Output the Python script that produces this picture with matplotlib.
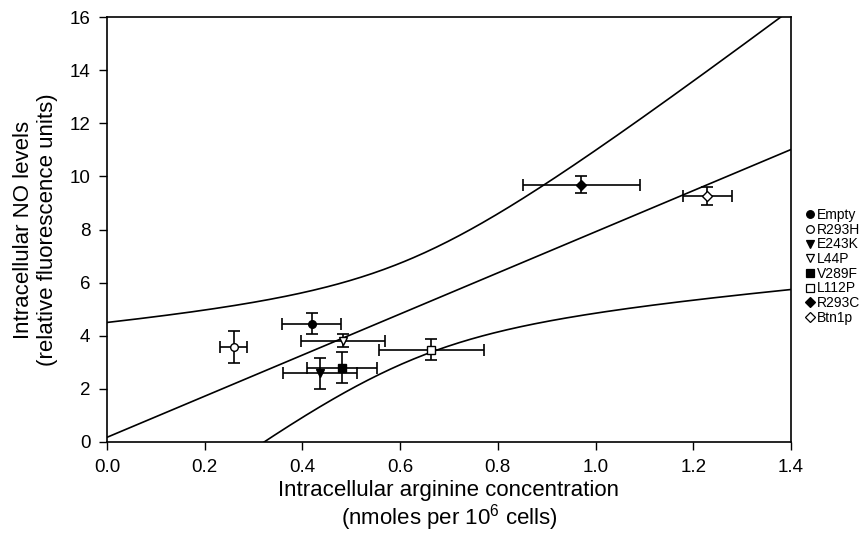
import numpy as np
import matplotlib
matplotlib.use("Agg")
import matplotlib.pyplot as plt
from matplotlib.lines import Line2D

plt.rcParams["font.family"] = ["Liberation Sans", "DejaVu Sans"]
plt.rcParams["mathtext.default"] = "regular"

# ---------------------------------------------------------------- data
labels = ["Empty", "R293H", "E243K", "L44P", "V289F", "L112P", "R293C", "Btn1p"]
arg = [0.419, 0.259, 0.436, 0.483, 0.481, 0.664, 0.971, 1.229]      # x
arg_err = [0.060, 0.027, 0.075, 0.085, 0.072, 0.107, 0.119, 0.050]
no = [4.45, 3.58, 2.58, 3.81, 2.80, 3.48, 9.69, 9.27]               # y
no_err = [0.40, 0.60, 0.60, 0.24, 0.57, 0.40, 0.31, 0.33]
markers = ["o", "o", "v", "v", "s", "s", "D", "D"]
filled = [True, False, True, False, True, False, True, False]

T_99 = 3.707   # t(0.995, df=6): 99% confidence band

# ---------------------------------------------------------------- fit
x = np.array(arg)
y = np.array(no)
n = len(x)
xbar, ybar = x.mean(), y.mean()
sxx = ((x - xbar) ** 2).sum()
slope = ((x - xbar) * (y - ybar)).sum() / sxx
icpt = ybar - slope * xbar
s = np.sqrt(((y - (icpt + slope * x)) ** 2).sum() / (n - 2))

xf = np.linspace(0, 1.4, 300)
yf = icpt + slope * xf
half = T_99 * s * np.sqrt(1 / n + (xf - xbar) ** 2 / sxx)

# ---------------------------------------------------------------- plot
fig = plt.figure(figsize=(8.64, 5.37), dpi=100)
ax = fig.add_axes([107 / 864, 1 - 442 / 537, (791 - 107) / 864, (442 - 17) / 537])

for yy in (yf, yf + half, yf - half):
    ax.plot(xf, yy, color="black", lw=1.2, zorder=2)

handles = []
for xi, xe, yi, ye, m, f, lab in zip(arg, arg_err, no, no_err, markers, filled, labels):
    ax.errorbar(xi, yi, xerr=xe, yerr=ye, fmt="none", ecolor="black",
                elinewidth=1.2, capsize=4, capthick=1.2, zorder=3)
    ax.plot(xi, yi, marker=m, ms=5.5 if m != "D" else 5, mfc="black" if f else "white",
            mec="black", mew=1.0, ls="none", zorder=4)
    handles.append(Line2D([], [], marker=m, ms=5.5 if m != "D" else 5,
                          mfc="black" if f else "white", mec="black", mew=0.9, ls="none",
                          label=lab))

ax.set_xlim(0, 1.4)
ax.set_ylim(0, 16)
ax.set_xticks(np.arange(0, 1.41, 0.2))
ax.set_xticklabels([f"{v:.1f}" for v in np.arange(0, 1.41, 0.2)])
ax.set_yticks(range(0, 17, 2))
ax.tick_params(direction="out", length=6, width=1.0, labelsize=13.5, pad=6,
               top=False, right=False)
for sp in ax.spines.values():
    sp.set_linewidth(1.2)

ax.set_xlabel("Intracellular arginine concentration\n(nmoles per 10$^6$ cells)",
              fontsize=16, labelpad=3, linespacing=1.05)
ax.set_ylabel("Intracellular NO levels\n(relative fluorescence units)",
              fontsize=16, labelpad=8, linespacing=1.2)

fig.legend(handles=handles, loc="upper left",
           bbox_to_anchor=(807 / 864, 1 - 208 / 537), bbox_transform=fig.transFigure,
           frameon=False, fontsize=10, handlelength=0.5, handletextpad=0.2,
           labelspacing=0.05, borderpad=0, borderaxespad=0)

fig.savefig("out.png", dpi=100)
